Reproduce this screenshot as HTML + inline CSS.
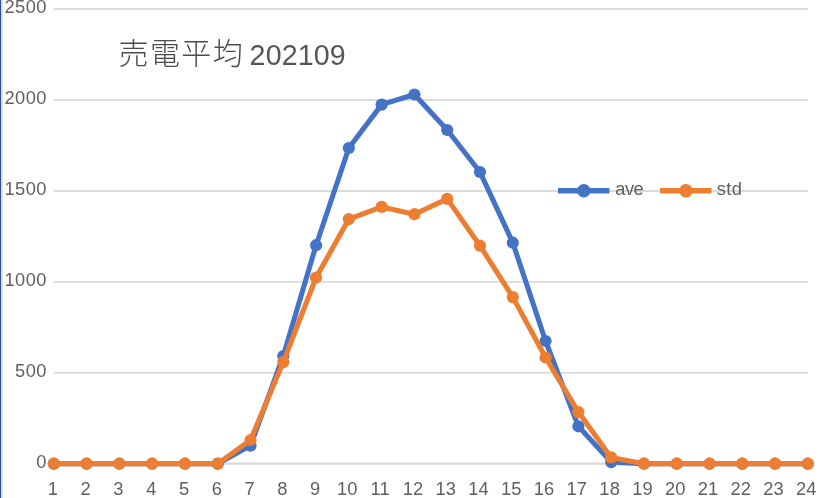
<!DOCTYPE html>
<html lang="ja">
<head>
<meta charset="utf-8">
<title>売電平均 202109</title>
<style>
html,body{margin:0;padding:0;background:#fff;}
body{width:839px;height:498px;overflow:hidden;position:relative;}
svg{display:block;position:absolute;left:0;top:0;}
text{font-family:"Liberation Sans","Noto Sans CJK JP",sans-serif;fill:#606060;}
.ax{font-size:18.3px;letter-spacing:0.45px;}
.ttl{font-size:28.6px;fill:#575757;}
.cjk{font-size:30px;font-weight:300;letter-spacing:1.35px;fill:#4c4c4c;}
</style>
</head>
<body>
<svg width="839" height="498" viewBox="0 0 839 498">
<rect x="0" y="0" width="839" height="498" fill="#ffffff"/>
<rect x="0" y="0" width="1" height="498" fill="#30538F"/>
<rect x="1" y="0" width="1" height="498" fill="#D8D7D5"/>
<rect x="2" y="0" width="1" height="498" fill="#E6E6E6"/>

<g shape-rendering="crispEdges">
<rect x="54" y="8" width="754" height="1" fill="#DBDBDB"/>
<rect x="54" y="9" width="754" height="1" fill="#DBDBDB"/>
<rect x="54" y="99" width="754" height="1" fill="#DBDBDB"/>
<rect x="54" y="100" width="754" height="1" fill="#DBDBDB"/>
<rect x="54" y="190" width="754" height="1" fill="#DBDBDB"/>
<rect x="54" y="191" width="754" height="1" fill="#DBDBDB"/>
<rect x="54" y="281" width="754" height="1" fill="#D7D7D7"/>
<rect x="54" y="282" width="754" height="1" fill="#E8E8E8"/>
<rect x="54" y="372" width="754" height="1" fill="#D8D8D8"/>
<rect x="54" y="373" width="754" height="1" fill="#E8E8E8"/>
<rect x="54" y="462" width="754" height="1" fill="#EEEEEE"/>
<rect x="54" y="463" width="754" height="1" fill="#D8D8D8"/>
<rect x="54" y="464" width="754" height="1" fill="#E3E3E3"/>
</g>
<g class="ax" text-anchor="end">
<text x="46.9" y="467.80">0</text>
<text x="46.9" y="376.88">500</text>
<text x="46.9" y="285.96">1000</text>
<text x="46.9" y="195.04">1500</text>
<text x="46.9" y="104.12">2000</text>
<text x="46.9" y="13.20">2500</text>
</g>
<g class="ax" text-anchor="middle">
<text x="53.10" y="495.1">1</text>
<text x="85.88" y="495.1">2</text>
<text x="118.67" y="495.1">3</text>
<text x="151.45" y="495.1">4</text>
<text x="184.24" y="495.1">5</text>
<text x="217.02" y="495.1">6</text>
<text x="249.81" y="495.1">7</text>
<text x="282.59" y="495.1">8</text>
<text x="315.38" y="495.1">9</text>
<text x="347.36" y="495.1" style="letter-spacing:0.1px">10</text>
<text x="380.15" y="495.1" style="letter-spacing:0.1px">11</text>
<text x="412.94" y="495.1" style="letter-spacing:0.1px">12</text>
<text x="445.72" y="495.1" style="letter-spacing:0.1px">13</text>
<text x="478.50" y="495.1" style="letter-spacing:0.1px">14</text>
<text x="511.29" y="495.1" style="letter-spacing:0.1px">15</text>
<text x="544.07" y="495.1" style="letter-spacing:0.1px">16</text>
<text x="576.86" y="495.1" style="letter-spacing:0.1px">17</text>
<text x="609.64" y="495.1" style="letter-spacing:0.1px">18</text>
<text x="642.43" y="495.1" style="letter-spacing:0.1px">19</text>
<text x="675.21" y="495.1" style="letter-spacing:0.1px">20</text>
<text x="708.00" y="495.1" style="letter-spacing:0.1px">21</text>
<text x="740.78" y="495.1" style="letter-spacing:0.1px">22</text>
<text x="773.57" y="495.1" style="letter-spacing:0.1px">23</text>
<text x="806.35" y="495.1" style="letter-spacing:0.1px">24</text>
</g>
<text class="ttl" x="118.6" y="65.2"><tspan class="cjk" y="64.4">売電平均</tspan><tspan x="249.6" y="65.2" style="letter-spacing:0.15px">202109</tspan></text>
<g fill="#4472C4" stroke="none">
<polyline fill="none" stroke="#4472C4" stroke-width="5.1" stroke-linejoin="round" stroke-linecap="round" points="53.80,463.70 86.58,463.70 119.37,463.70 152.15,463.70 184.94,463.70 217.72,463.70 250.51,445.60 283.29,356.00 316.08,245.20 348.86,148.00 381.65,104.60 414.44,94.50 447.22,130.00 480.00,172.00 512.79,242.70 545.57,341.00 578.36,426.30 611.14,462.10 643.93,463.70 676.71,463.70 709.50,463.70 742.28,463.70 775.07,463.70 807.85,463.70"/>
<circle cx="53.80" cy="463.70" r="6.1"/>
<circle cx="86.58" cy="463.70" r="6.1"/>
<circle cx="119.37" cy="463.70" r="6.1"/>
<circle cx="152.15" cy="463.70" r="6.1"/>
<circle cx="184.94" cy="463.70" r="6.1"/>
<circle cx="217.72" cy="463.70" r="6.1"/>
<circle cx="250.51" cy="445.60" r="6.1"/>
<circle cx="283.29" cy="356.00" r="6.1"/>
<circle cx="316.08" cy="245.20" r="6.1"/>
<circle cx="348.86" cy="148.00" r="6.1"/>
<circle cx="381.65" cy="104.60" r="6.1"/>
<circle cx="414.44" cy="94.50" r="6.1"/>
<circle cx="447.22" cy="130.00" r="6.1"/>
<circle cx="480.00" cy="172.00" r="6.1"/>
<circle cx="512.79" cy="242.70" r="6.1"/>
<circle cx="545.57" cy="341.00" r="6.1"/>
<circle cx="578.36" cy="426.30" r="6.1"/>
<circle cx="611.14" cy="462.10" r="6.1"/>
<circle cx="643.93" cy="463.70" r="6.1"/>
<circle cx="676.71" cy="463.70" r="6.1"/>
<circle cx="709.50" cy="463.70" r="6.1"/>
<circle cx="742.28" cy="463.70" r="6.1"/>
<circle cx="775.07" cy="463.70" r="6.1"/>
<circle cx="807.85" cy="463.70" r="6.1"/>
</g>
<g fill="#ED7D31" stroke="none">
<polyline fill="none" stroke="#ED7D31" stroke-width="5.1" stroke-linejoin="round" stroke-linecap="round" points="53.80,463.70 86.58,463.70 119.37,463.70 152.15,463.70 184.94,463.70 217.72,463.70 250.51,440.00 283.29,362.10 316.08,277.50 348.86,219.10 381.65,206.90 414.44,214.20 447.22,198.90 480.00,245.70 512.79,297.10 545.57,357.50 578.36,412.10 611.14,457.40 643.93,463.70 676.71,463.70 709.50,463.70 742.28,463.70 775.07,463.70 807.85,463.70"/>
<circle cx="53.80" cy="463.70" r="6.1"/>
<circle cx="86.58" cy="463.70" r="6.1"/>
<circle cx="119.37" cy="463.70" r="6.1"/>
<circle cx="152.15" cy="463.70" r="6.1"/>
<circle cx="184.94" cy="463.70" r="6.1"/>
<circle cx="217.72" cy="463.70" r="6.1"/>
<circle cx="250.51" cy="440.00" r="6.1"/>
<circle cx="283.29" cy="362.10" r="6.1"/>
<circle cx="316.08" cy="277.50" r="6.1"/>
<circle cx="348.86" cy="219.10" r="6.1"/>
<circle cx="381.65" cy="206.90" r="6.1"/>
<circle cx="414.44" cy="214.20" r="6.1"/>
<circle cx="447.22" cy="198.90" r="6.1"/>
<circle cx="480.00" cy="245.70" r="6.1"/>
<circle cx="512.79" cy="297.10" r="6.1"/>
<circle cx="545.57" cy="357.50" r="6.1"/>
<circle cx="578.36" cy="412.10" r="6.1"/>
<circle cx="611.14" cy="457.40" r="6.1"/>
<circle cx="643.93" cy="463.70" r="6.1"/>
<circle cx="676.71" cy="463.70" r="6.1"/>
<circle cx="709.50" cy="463.70" r="6.1"/>
<circle cx="742.28" cy="463.70" r="6.1"/>
<circle cx="775.07" cy="463.70" r="6.1"/>
<circle cx="807.85" cy="463.70" r="6.1"/>
</g>
<g>
<line x1="558.0" y1="190.65" x2="609.4" y2="190.65" stroke="#4472C4" stroke-width="5.5"/>
<circle cx="583.8" cy="190.75" r="6.75" fill="#4472C4"/>
<text class="ax" x="615.3" y="195.0" style="letter-spacing:-0.55px">ave</text>
<line x1="660.1" y1="190.65" x2="711.5" y2="190.65" stroke="#ED7D31" stroke-width="5.5"/>
<circle cx="685.9" cy="190.75" r="6.75" fill="#ED7D31"/>
<text class="ax" x="716.7" y="195.0" style="letter-spacing:0.45px">std</text>
</g>
</svg>
</body>
</html>
